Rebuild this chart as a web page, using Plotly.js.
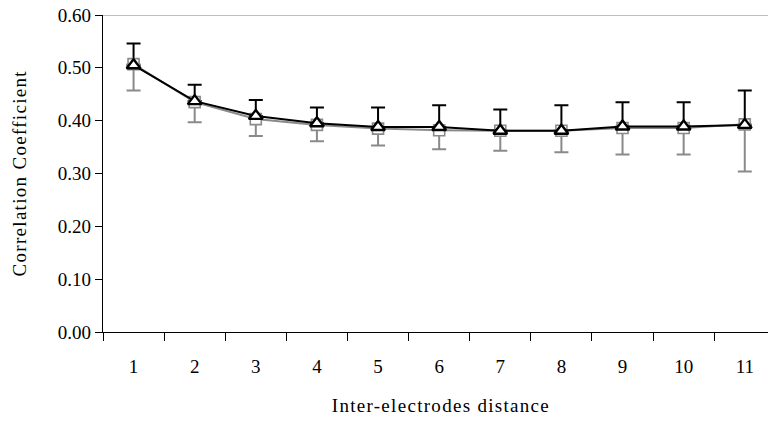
<!DOCTYPE html>
<html>
<head>
<meta charset="utf-8">
<script src="https://cdn.plot.ly/plotly-3.0.1.min.js"></script>
<style>
  html, body { margin: 0; padding: 0; background: #ffffff; }
  #chart { width: 768px; height: 422px; }
  /* axis titles are set with slightly open letter spacing */
  #chart .annotation-text { letter-spacing: 1.3px; }
</style>
</head>
<body>
<div id="chart"></div>
<script>
// Inter-electrode distance categories
const distances = ['1', '2', '3', '4', '5', '6', '7', '8', '9', '10', '11'];

// Series A (grey squares) – mean correlation and lower deviation
const seriesA = [0.507, 0.435, 0.403, 0.392, 0.385, 0.382, 0.381, 0.381, 0.386, 0.386, 0.393];
const seriesAErrLow = [0.050, 0.038, 0.032, 0.031, 0.032, 0.036, 0.038, 0.041, 0.050, 0.050, 0.089];

// Series B (black triangles) – mean correlation and upper deviation
const seriesB = [0.505, 0.437, 0.409, 0.395, 0.388, 0.388, 0.381, 0.381, 0.389, 0.389, 0.392];
const seriesBErrHigh = [0.041, 0.031, 0.030, 0.030, 0.037, 0.041, 0.040, 0.048, 0.046, 0.046, 0.065];

// y-axis ticks
const yTicks = [0, 0.1, 0.2, 0.3, 0.4, 0.5, 0.6];
const yTickText = ['0.00', '0.10', '0.20', '0.30', '0.40', '0.50', '0.60'];

const GREY = '#8a8a8a';
const zeros = distances.map(() => 0);
const serif = 'Liberation Serif, Times New Roman, serif';

// One-sided error bars go in their own layers beneath the markers
const traces = [
  {
    x: distances, y: seriesB, type: 'scatter', mode: 'markers',
    marker: { size: 1, opacity: 0 }, hoverinfo: 'skip', showlegend: false,
    error_y: { type: 'data', symmetric: false, array: seriesBErrHigh, arrayminus: zeros,
               color: '#000000', thickness: 2, width: 7 }
  },
  {
    x: distances, y: seriesA, type: 'scatter', mode: 'markers',
    marker: { size: 1, opacity: 0 }, hoverinfo: 'skip', showlegend: false,
    error_y: { type: 'data', symmetric: false, array: zeros, arrayminus: seriesAErrLow,
               color: GREY, thickness: 2, width: 7 }
  },
  {
    x: distances, y: seriesA, type: 'scatter', mode: 'lines+markers', showlegend: false,
    line: { color: GREY, width: 2 },
    marker: { symbol: 'square', size: 11, color: '#ffffff', line: { color: GREY, width: 1.6 } }
  },
  {
    x: distances, y: seriesB, type: 'scatter', mode: 'lines+markers', showlegend: false,
    line: { color: '#000000', width: 2 },
    marker: { symbol: 'triangle-up', size: 12, color: '#ffffff', line: { color: '#000000', width: 2.4 } }
  }
];

const layout = {
  width: 768, height: 422,
  margin: { l: 103, r: 0, t: 15, b: 90 },
  paper_bgcolor: '#ffffff', plot_bgcolor: '#ffffff',
  font: { family: serif, size: 18, color: '#000000' },
  showlegend: false,
  xaxis: {
    type: 'category', range: [-0.5, 10.38], tickson: 'boundaries',
    ticks: 'outside', ticklen: 8, tickwidth: 1, tickcolor: '#000000',
    showline: true, linecolor: '#000000', linewidth: 1.3,
    showgrid: false, zeroline: false, ticklabelstandoff: 17,
    tickfont: { family: serif, size: 19, color: '#000000' }
  },
  yaxis: {
    range: [0, 0.6], tickvals: yTicks, ticktext: yTickText,
    ticks: 'outside', ticklen: 7, tickwidth: 1, tickcolor: '#000000',
    showline: true, linecolor: '#000000', linewidth: 1.3,
    showgrid: false, zeroline: false, ticklabelstandoff: 0,
    tickfont: { family: serif, size: 19, color: '#000000' }
  },
  shapes: [
    { type: 'line', xref: 'paper', yref: 'y', x0: 0, x1: 1, y0: 0.6, y1: 0.6,
      line: { color: '#808080', width: 1 } }
  ],
  annotations: [
    { text: 'Correlation Coefficient', xref: 'paper', yref: 'paper', x: 0, y: 0.5,
      xshift: -84, textangle: -90, showarrow: false, xanchor: 'center', yanchor: 'middle',
      font: { family: serif, size: 19, color: '#000000' } },
    { text: 'Inter-electrodes distance', xref: 'paper', yref: 'paper', x: 0.508, y: 0,
      yshift: -73, showarrow: false, xanchor: 'center', yanchor: 'middle',
      font: { family: serif, size: 19, color: '#000000' } }
  ]
};

Plotly.newPlot('chart', traces, layout, { displayModeBar: false, staticPlot: true });
</script>
</body>
</html>
